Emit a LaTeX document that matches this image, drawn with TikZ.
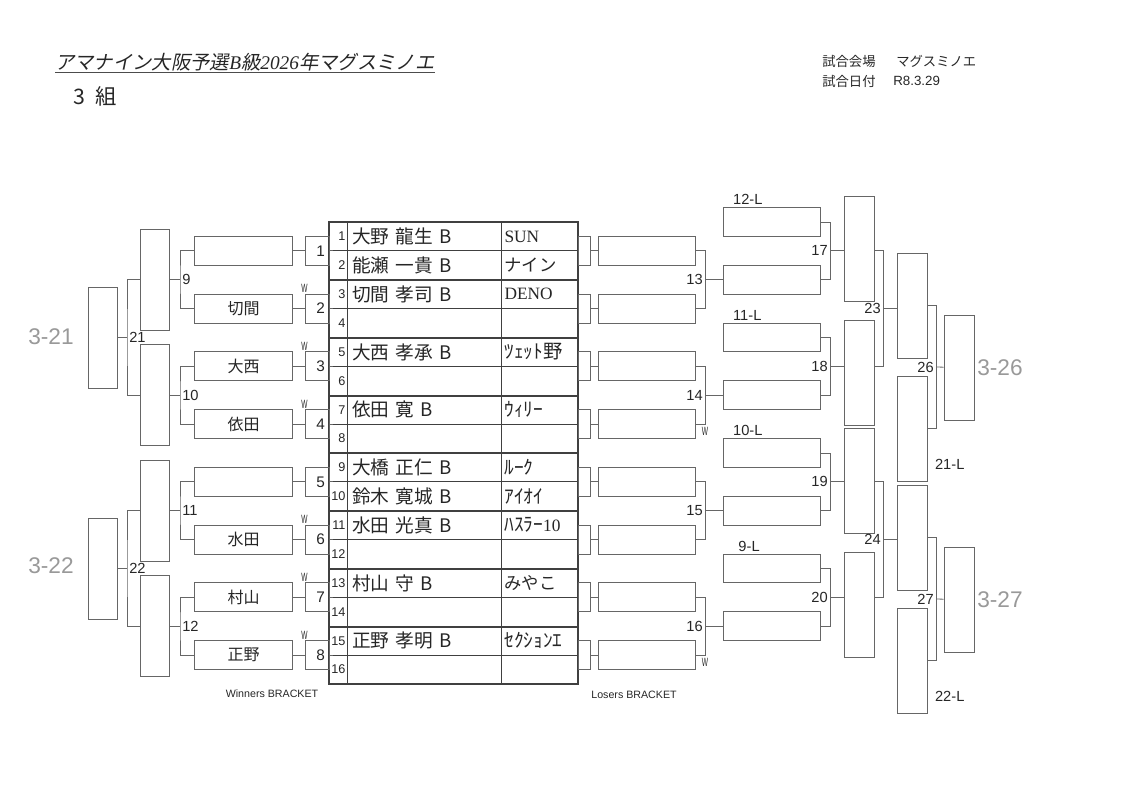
\documentclass[tikz,border=0pt]{standalone}
\usepackage{fontspec}
\setmainfont{Liberation Serif}
\setsansfont{Liberation Sans}
\newfontfamily\jp[WordSpace=2.2]{Noto Sans CJK JP}
\newfontfamily\jpit[FakeSlant=0.2]{Noto Sans CJK JP}
\newfontfamily\narrowsf[FakeStretch=0.55]{Liberation Sans}
\usepackage{tikz}

\tikzset{
  bline/.style={draw=black!60, line width=0.6pt},
  cell/.style={draw=black!75, line width=0.6pt, minimum height=21.66pt, inner sep=0pt, text=black!85},
  numcell/.style={cell, minimum width=13.5pt, text width=11.25pt, align=right, font=\sffamily\fontsize{9.5}{9.5}\selectfont},
  namecell/.style={cell, minimum width=115.5pt, text width=108pt, align=left, font=\jp\fontsize{14}{16}\selectfont},
  teamcell/.style={cell, minimum width=57.75pt, text width=52.5pt, align=left, font=\fontsize{13}{15}\selectfont},
  kana/.style={font=\jp\fontsize{14.5}{15}\selectfont},
  pairrule/.style={draw=black!75, line width=1.4pt},
  namebox/.style={draw=black!60, line width=0.7pt, minimum width=73pt, minimum height=21.66pt, inner sep=0pt, font=\jp\fontsize{12}{12}\selectfont, text=black!85},
  matchbox/.style={draw=black!60, line width=0.7pt, minimum width=18pt, minimum height=21.66pt, inner sep=0pt, text width=12pt, align=right, font=\sffamily\fontsize{11.5}{11.5}\selectfont, text=black!85},
  smallbox/.style={draw=black!60, line width=0.7pt, minimum width=9pt, minimum height=21.66pt, inner sep=0pt},
  tallbox/.style={draw=black!60, line width=0.7pt, minimum width=21.75pt, minimum height=75.75pt, inner sep=0pt},
  longbox/.style={draw=black!60, line width=0.7pt, minimum width=22.5pt, minimum height=78.75pt, inner sep=0pt},
  blab/.style={font=\sffamily\fontsize{11}{11}\selectfont, inner sep=1.5pt, text=black!85},
  wlab/.style={font=\narrowsf\fontsize{9}{9}\selectfont, inner sep=0.5pt, text=black!85},
  hand/.style={font=\sffamily\fontsize{17}{17}\selectfont, text=black!40},
  info/.style={font=\jp\fontsize{10}{10}\selectfont, anchor=west, inner sep=0pt, text=black!85}
}

\begin{document}
\begin{tikzpicture}[x=0.75pt, y=-0.75pt]
        \useasboundingbox (0,0) rectangle (1123,794);
        % heading
        \node[anchor=base west, inner sep=0pt, font=\fontsize{14.5}{15}\selectfont, text=black!85] (title) at (55,69) {{\jpit アマナイン大阪予選}\textit{B}{\jpit 級}\textit{2026}{\jpit 年マグスミノエ}};
        \draw[black!70, line width=0.6pt] ([yshift=-2.5pt]title.base west) -- ([yshift=-2.5pt]title.base east);
        \node[anchor=west, inner sep=0pt, font=\jp\fontsize{16}{16}\selectfont, text=black!85] (group) at (73,96) {3 組};
        \node[info] (sitekey) at (822,61) {試合会場};
        \node[info] (siteval) at (896,61) {マグスミノエ};
        \node[info] (datekey) at (822,81) {試合日付};
        \node[info, font=\sffamily\fontsize{10}{10}\selectfont] (dateval) at (893,81) {R8.3.29};

        % entry table
        \node[numcell] (nr1) at (338,236.44) {1};   \node[namecell] (pl1) at (424,236.44) {大野 龍生 B};   \node[teamcell] (tm1) at (539.5,236.44) {SUN};
        \node[numcell] (nr2) at (338,265.31) {2};   \node[namecell] (pl2) at (424,265.31) {能瀬 一貴 B};   \node[teamcell] (tm2) at (539.5,265.31) {\jp ナイン};
        \node[numcell] (nr3) at (338,294.19) {3};   \node[namecell] (pl3) at (424,294.19) {切間 孝司 B};   \node[teamcell] (tm3) at (539.5,294.19) {DENO};
        \node[numcell] (nr4) at (338,323.06) {4};   \node[namecell] (pl4) at (424,323.06) {};              \node[teamcell] (tm4) at (539.5,323.06) {};
        \node[numcell] (nr5) at (338,351.94) {5};   \node[namecell] (pl5) at (424,351.94) {大西 孝承 B};   \node[teamcell, kana] (tm5) at (539.5,351.94) {ﾂｪｯﾄ野};
        \node[numcell] (nr6) at (338,380.81) {6};   \node[namecell] (pl6) at (424,380.81) {};              \node[teamcell] (tm6) at (539.5,380.81) {};
        \node[numcell] (nr7) at (338,409.69) {7};   \node[namecell] (pl7) at (424,409.69) {依田 寛 B};     \node[teamcell, kana] (tm7) at (539.5,409.69) {ｳｨﾘｰ};
        \node[numcell] (nr8) at (338,438.56) {8};   \node[namecell] (pl8) at (424,438.56) {};              \node[teamcell] (tm8) at (539.5,438.56) {};
        \node[numcell] (nr9) at (338,467.44) {9};   \node[namecell] (pl9) at (424,467.44) {大橋 正仁 B};   \node[teamcell, kana] (tm9) at (539.5,467.44) {ﾙｰｸ};
        \node[numcell] (nr10) at (338,496.31) {10}; \node[namecell] (pl10) at (424,496.31) {鈴木 寛城 B};  \node[teamcell, kana] (tm10) at (539.5,496.31) {ｱｲｵｲ};
        \node[numcell] (nr11) at (338,525.19) {11}; \node[namecell] (pl11) at (424,525.19) {水田 光真 B};  \node[teamcell] (tm11) at (539.5,525.19) {{\jp\fontsize{14.5}{15}\selectfont ﾊｽﾗｰ}10};
        \node[numcell] (nr12) at (338,554.06) {12}; \node[namecell] (pl12) at (424,554.06) {};             \node[teamcell] (tm12) at (539.5,554.06) {};
        \node[numcell] (nr13) at (338,582.94) {13}; \node[namecell] (pl13) at (424,582.94) {村山 守 B};    \node[teamcell] (tm13) at (539.5,582.94) {\jp みやこ};
        \node[numcell] (nr14) at (338,611.81) {14}; \node[namecell] (pl14) at (424,611.81) {};             \node[teamcell] (tm14) at (539.5,611.81) {};
        \node[numcell] (nr15) at (338,640.69) {15}; \node[namecell] (pl15) at (424,640.69) {正野 孝明 B};  \node[teamcell, kana] (tm15) at (539.5,640.69) {ｾｸｼｮﾝｴ};
        \node[numcell] (nr16) at (338,669.56) {16}; \node[namecell] (pl16) at (424,669.56) {};             \node[teamcell] (tm16) at (539.5,669.56) {};
        \draw[pairrule] (nr2.south west) -- (tm2.south east);
        \draw[pairrule] (nr4.south west) -- (tm4.south east);
        \draw[pairrule] (nr6.south west) -- (tm6.south east);
        \draw[pairrule] (nr8.south west) -- (tm8.south east);
        \draw[pairrule] (nr10.south west) -- (tm10.south east);
        \draw[pairrule] (nr12.south west) -- (tm12.south east);
        \draw[pairrule] (nr14.south west) -- (tm14.south east);
        \draw[pairrule] (nr1.north west) rectangle (tm16.south east);

        % winners bracket, first round
        \node[matchbox] (m1) at (317,250.88) {1};
        \node[matchbox] (m2) at (317,308.63) {2};
        \node[matchbox] (m3) at (317,366.38) {3};
        \node[matchbox] (m4) at (317,424.13) {4};
        \node[matchbox] (m5) at (317,481.88) {5};
        \node[matchbox] (m6) at (317,539.63) {6};
        \node[matchbox] (m7) at (317,597.38) {7};
        \node[matchbox] (m8) at (317,655.13) {8};
        \node[namebox] (w1) at (243.5,250.88) {};
        \node[namebox] (w2) at (243.5,308.63) {切間};
        \node[namebox] (w3) at (243.5,366.38) {大西};
        \node[namebox] (w4) at (243.5,424.13) {依田};
        \node[namebox] (w5) at (243.5,481.88) {};
        \node[namebox] (w6) at (243.5,539.63) {水田};
        \node[namebox] (w7) at (243.5,597.38) {村山};
        \node[namebox] (w8) at (243.5,655.13) {正野};
        \draw[bline] (w1) -- (m1);  \draw[bline] (m1.east) -- +(4,0);
        \draw[bline] (w2) -- (m2);  \draw[bline] (m2.east) -- +(4,0);
        \draw[bline] (w3) -- (m3);  \draw[bline] (m3.east) -- +(4,0);
        \draw[bline] (w4) -- (m4);  \draw[bline] (m4.east) -- +(4,0);
        \draw[bline] (w5) -- (m5);  \draw[bline] (m5.east) -- +(4,0);
        \draw[bline] (w6) -- (m6);  \draw[bline] (m6.east) -- +(4,0);
        \draw[bline] (w7) -- (m7);  \draw[bline] (m7.east) -- +(4,0);
        \draw[bline] (w8) -- (m8);  \draw[bline] (m8.east) -- +(4,0);
        \node[wlab, anchor=south] (wm2) at (m2.north west) {W};
        \node[wlab, anchor=south] (wm3) at (m3.north west) {W};
        \node[wlab, anchor=south] (wm4) at (m4.north west) {W};
        \node[wlab, anchor=south] (wm6) at (m6.north west) {W};
        \node[wlab, anchor=south] (wm7) at (m7.north west) {W};
        \node[wlab, anchor=south] (wm8) at (m8.north west) {W};

        % winners bracket, second round
        \coordinate (j9) at (180,279.75);
        \coordinate (j10) at (180,395.25);
        \coordinate (j11) at (180,510.75);
        \coordinate (j12) at (180,626.25);
        \draw[bline] (w1.west) -| (j9) |- (w2.west);
        \draw[bline] (w3.west) -| (j10) |- (w4.west);
        \draw[bline] (w5.west) -| (j11) |- (w6.west);
        \draw[bline] (w7.west) -| (j12) |- (w8.west);
        \node[blab, anchor=west] (lb9) at (j9) {9};
        \node[blab, anchor=west] (lb10) at (j10) {10};
        \node[blab, anchor=west] (lb11) at (j11) {11};
        \node[blab, anchor=west] (lb12) at (j12) {12};
        \node[tallbox] (w9) at (154.5,279.75) {};
        \node[tallbox] (w10) at (154.5,395.25) {};
        \node[tallbox] (w11) at (154.5,510.75) {};
        \node[tallbox] (w12) at (154.5,626.25) {};
        \draw[bline] (j9) -- (w9);
        \draw[bline] (j10) -- (w10);
        \draw[bline] (j11) -- (w11);
        \draw[bline] (j12) -- (w12);

        % winners bracket, final round
        \coordinate (j21) at (127,337.5);
        \coordinate (j22) at (127,568.5);
        \draw[bline] (w9.west) -| (j21) |- (w10.west);
        \draw[bline] (w11.west) -| (j22) |- (w12.west);
        \node[blab, anchor=west] (lb21) at (j21) {21};
        \node[blab, anchor=west] (lb22) at (j22) {22};
        \node[tallbox] (f21) at (102.5,337.5) {};
        \node[tallbox] (f22) at (102.5,568.5) {};
        \draw[bline] (j21) -- (f21);
        \draw[bline] (j22) -- (f22);
        \node[hand] (h21) at (51,337) {3-21};
        \node[hand] (h22) at (51,566) {3-22};
        \node[font=\sffamily\fontsize{8}{8}\selectfont, text=black!85] (wbr) at (272,694) {Winners BRACKET};

        % losers bracket, first round
        \node[smallbox] (s1) at (584,250.88) {};
        \node[smallbox] (s2) at (584,308.63) {};
        \node[smallbox] (s3) at (584,366.38) {};
        \node[smallbox] (s4) at (584,424.13) {};
        \node[smallbox] (s5) at (584,481.88) {};
        \node[smallbox] (s6) at (584,539.63) {};
        \node[smallbox] (s7) at (584,597.38) {};
        \node[smallbox] (s8) at (584,655.13) {};
        \node[namebox] (lo1) at (647,250.88) {};
        \node[namebox] (lo2) at (647,308.63) {};
        \node[namebox] (lo3) at (647,366.38) {};
        \node[namebox] (lo4) at (647,424.13) {};
        \node[namebox] (lo5) at (647,481.88) {};
        \node[namebox] (lo6) at (647,539.63) {};
        \node[namebox] (lo7) at (647,597.38) {};
        \node[namebox] (lo8) at (647,655.13) {};
        \draw[bline] (s1) -- (lo1);
        \draw[bline] (s2) -- (lo2);
        \draw[bline] (s3) -- (lo3);
        \draw[bline] (s4) -- (lo4);
        \draw[bline] (s5) -- (lo5);
        \draw[bline] (s6) -- (lo6);
        \draw[bline] (s7) -- (lo7);
        \draw[bline] (s8) -- (lo8);
        \coordinate (j13) at (705,279.75);
        \coordinate (j14) at (705,395.25);
        \coordinate (j15) at (705,510.75);
        \coordinate (j16) at (705,626.25);
        \draw[bline] (lo1.east) -| (j13) |- (lo2.east);
        \draw[bline] (lo3.east) -| (j14) |- (lo4.east);
        \draw[bline] (lo5.east) -| (j15) |- (lo6.east);
        \draw[bline] (lo7.east) -| (j16) |- (lo8.east);
        \node[blab, anchor=east] (lb13) at (j13) {13};
        \node[blab, anchor=east] (lb14) at (j14) {14};
        \node[blab, anchor=east] (lb15) at (j15) {15};
        \node[blab, anchor=east] (lb16) at (j16) {16};
        \node[wlab, anchor=north] (wl14) at ([yshift=-1.5pt]lo4.east -| j14) {W};
        \node[wlab, anchor=north] (wl16) at ([yshift=-1.5pt]lo8.east -| j16) {W};

        % losers bracket, second round
        \node[namebox] (a17) at (772,222) {};
        \node[namebox] (b17) at (772,279.75) {};
        \node[namebox] (a18) at (772,337.5) {};
        \node[namebox] (b18) at (772,395.25) {};
        \node[namebox] (a19) at (772,453) {};
        \node[namebox] (b19) at (772,510.75) {};
        \node[namebox] (a20) at (772,568.5) {};
        \node[namebox] (b20) at (772,626.25) {};
        \node[blab, anchor=south west] (la17) at ([xshift=6pt]a17.north west) {12-L};
        \node[blab, anchor=south west] (la18) at ([xshift=6pt]a18.north west) {11-L};
        \node[blab, anchor=south west] (la19) at ([xshift=6pt]a19.north west) {10-L};
        \node[blab, anchor=south west] (la20) at ([xshift=10pt]a20.north west) {9-L};
        \draw[bline] (j13) -- (b17);
        \draw[bline] (j14) -- (b18);
        \draw[bline] (j15) -- (b19);
        \draw[bline] (j16) -- (b20);
        \coordinate (j17) at (830,250.88);
        \coordinate (j18) at (830,366.38);
        \coordinate (j19) at (830,481.88);
        \coordinate (j20) at (830,597.38);
        \draw[bline] (a17.east) -| (j17) |- (b17.east);
        \draw[bline] (a18.east) -| (j18) |- (b18.east);
        \draw[bline] (a19.east) -| (j19) |- (b19.east);
        \draw[bline] (a20.east) -| (j20) |- (b20.east);
        \node[blab, anchor=east] (lb17) at (j17) {17};
        \node[blab, anchor=east] (lb18) at (j18) {18};
        \node[blab, anchor=east] (lb19) at (j19) {19};
        \node[blab, anchor=east] (lb20) at (j20) {20};
        \node[longbox] (t17) at (859.5,249) {};
        \node[longbox] (t18) at (859.5,372.5) {};
        \node[longbox] (t19) at (859.5,480.5) {};
        \node[longbox] (t20) at (859.5,604.5) {};
        \draw[bline] (j17) -- (j17 -| t17.west);
        \draw[bline] (j18) -- (j18 -| t18.west);
        \draw[bline] (j19) -- (j19 -| t19.west);
        \draw[bline] (j20) -- (j20 -| t20.west);

        % losers bracket, third round
        \coordinate (j23) at (883,308.63);
        \coordinate (j24) at (883,539.63);
        \draw[bline] (j17 -| t17.east) -| (j23) |- (j18 -| t18.east);
        \draw[bline] (j19 -| t19.east) -| (j24) |- (j20 -| t20.east);
        \node[blab, anchor=east] (lb23) at (j23) {23};
        \node[blab, anchor=east] (lb24) at (j24) {24};
        \node[longbox] (t23) at (912,305.5) {};
        \node[longbox] (t21L) at (912,428.5) {};
        \node[longbox] (t24) at (912,537.5) {};
        \node[longbox] (t22L) at (912,660.5) {};
        \draw[bline] (j23) -- (j23 -| t23.west);
        \draw[bline] (j24) -- (j24 -| t24.west);
        \node[blab, anchor=west] (l21L) at ([xshift=4pt,yshift=-27pt]t21L.east) {21-L};
        \node[blab, anchor=west] (l22L) at ([xshift=4pt,yshift=-27pt]t22L.east) {22-L};

        % losers bracket, final round
        \coordinate (j26) at (936,367);
        \coordinate (j27) at (936,599);
        \draw[bline] (t23.east) -| (j26) |- (t21L.east);
        \draw[bline] (t24.east) -| (j27) |- (t22L.east);
        \node[blab, anchor=east] (lb26) at (j26) {26};
        \node[blab, anchor=east] (lb27) at (j27) {27};
        \node[longbox] (f26) at (959,367.5) {};
        \node[longbox] (f27) at (959,599.5) {};
        \draw[bline] (j26) -- (f26);
        \draw[bline] (j27) -- (f27);
        \node[hand] (h26) at (1000,368) {3-26};
        \node[hand] (h27) at (1000,600) {3-27};
        \node[font=\sffamily\fontsize{8}{8}\selectfont, text=black!85] (lbr) at (634,695) {Losers BRACKET};
\end{tikzpicture}
\end{document}
